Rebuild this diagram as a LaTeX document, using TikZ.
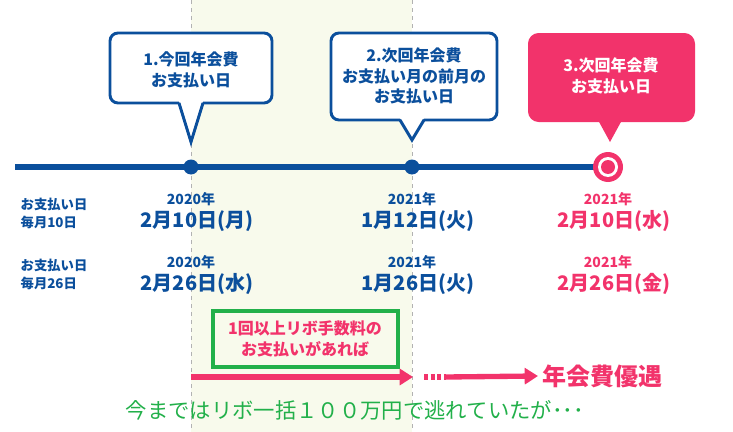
\documentclass[tikz,border=0pt]{standalone}
\usepackage{fontspec}
\setmainfont{Noto Sans CJK JP}
\usetikzlibrary{arrows.meta}
\definecolor{tlblue}{HTML}{0B4F9C}
\definecolor{tlpink}{HTML}{F2336B}
\definecolor{tlgreen}{HTML}{22B04A}
\definecolor{tlpale}{HTML}{F8FAEC}
\tikzset{
  callout/.style={draw=tlblue, line width=2.2pt, fill=white, rounded corners=6pt},
  tail/.style={draw=tlblue, line width=2.2pt, fill=white, line join=miter},
  calltext/.style={font=\bfseries\fontsize{12}{15.5}\selectfont, text=tlblue, align=center},
  yeartext/.style={font=\bfseries\fontsize{10.5}{12}\selectfont},
  datetext/.style={font=\bfseries\fontsize{15}{17}\selectfont},
  sidetext/.style={font=\bfseries\fontsize{10}{13.5}\selectfont, text=tlblue, align=left, anchor=west},
}
\begin{document}
\begin{tikzpicture}[x=0.75pt,y=-0.75pt]
    \useasboundingbox (0,0) rectangle (733,432);
    % Shaded period
    \fill[tlpale] (191,0) rectangle (412,432);
    \draw[gray!60, dashed, thin] (191,0) -- (191,432);
    \draw[gray!60, dashed, thin] (412,0) -- (412,432);

    % Timeline
    \coordinate (tl0) at (15,167);
    \coordinate (tl3) at (596,167);
    \draw[tlblue, line width=4pt] (tl0) -- (tl3);
    \fill[tlblue] (191,167) circle (7.5) coordinate (p1);
    \fill[tlblue] (412,167) circle (7.5) coordinate (p2);
    \fill[tlpink] (608,167) circle (15);
    \fill[white] (608,167) circle (10);
    \fill[tlpink] (608,167) circle (7);

    % Callout 1
    \draw[callout] (110,33) rectangle (272,103);
    \fill[white] (179,101) -- (203,101) -- (191,140) -- cycle;
    \draw[tail] (179,103) -- (191,142) -- (203,103);
    \node[calltext] (c1) at (191,70) {1.今回年会費\\お支払い日};
    % Callout 2
    \draw[callout] (331,33) rectangle (497,120);
    \fill[white] (400,118) -- (424,118) -- (412,138) -- cycle;
    \draw[tail] (400,120) -- (412,140) -- (424,120);
    \node[calltext] (c2) at (414,76) {2.次回年会費\\お支払い月の前月の\\お支払い日};
    % Callout 3
    \fill[tlpink, rounded corners=8pt] (528,33) rectangle (695,122);
    \fill[tlpink] (598,120) -- (622,120) -- (610,142) -- cycle;
    \node[calltext, text=white] (c3) at (611,76) {3.次回年会費\\お支払い日};

    % Row labels
    \node[sidetext] (r1) at (16,213) {お支払い日\\毎月10日};
    \node[sidetext] (r2) at (16,274) {お支払い日\\毎月26日};

    % Dates, row 1
    \node[yeartext, text=tlblue] (y11) at (191,199) {2020年};
    \node[datetext, text=tlblue] (d11) at (197,221) {2月10日(月)};
    \node[yeartext, text=tlblue] (y12) at (412,199) {2021年};
    \node[datetext, text=tlblue] (d12) at (418,221) {1月12日(火)};
    \node[yeartext, text=tlpink] (y13) at (608,199) {2021年};
    \node[datetext, text=tlpink] (d13) at (614,221) {2月10日(水)};
    % Dates, row 2
    \node[yeartext, text=tlblue] (y21) at (191,262) {2020年};
    \node[datetext, text=tlblue] (d21) at (197,284) {2月26日(水)};
    \node[yeartext, text=tlblue] (y22) at (412,262) {2021年};
    \node[datetext, text=tlblue] (d22) at (418,284) {1月26日(火)};
    \node[yeartext, text=tlpink] (y23) at (608,262) {2021年};
    \node[datetext, text=tlpink] (d23) at (614,284) {2月26日(金)};

    % Condition box
    \draw[tlgreen, line width=2.8pt] (213,311) rectangle (398,367);
    \node[calltext, text=tlpink] (cond) at (305,339) {1回以上リボ手数料の\\お支払いがあれば};

    % Pink arrows
    \coordinate (a0) at (191,377);
    \coordinate (a1) at (413,377);
    \coordinate (b0) at (446,377);
    \node[font=\bfseries\fontsize{18}{20}\selectfont, text=tlpink, anchor=west] (perk) at (538,376) {年会費優遇};
    \draw[tlpink, line width=4pt, -{Triangle[length=10pt,width=12pt]}] (a0) -- (a1);
    \draw[tlpink, line width=4pt, dash pattern=on 3pt off 2pt] (424,377) -- (b0);
    \draw[tlpink, line width=4pt, -{Triangle[length=10pt,width=12pt]}] (b0) -- (perk.west);

    % Footer
    \node[font=\fontsize{16}{18}\selectfont, text=tlgreen] (foot) at (355,410) {今まではリボ一括１００万円で逃れていたが･･･};
\end{tikzpicture}
\end{document}
